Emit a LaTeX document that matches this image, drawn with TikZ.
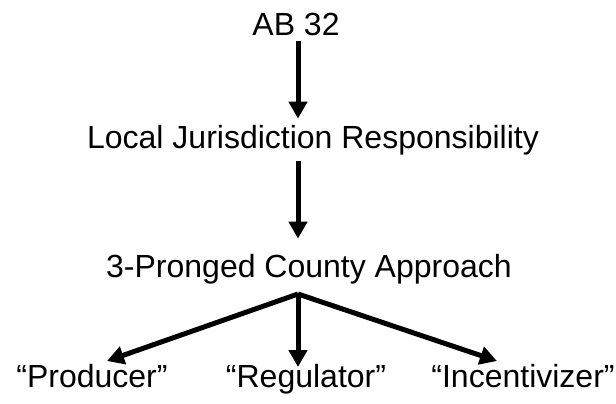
\documentclass[tikz,border=0pt]{standalone}
\usepackage{fontspec}
\setmainfont{Liberation Sans}
\usetikzlibrary{positioning,arrows.meta}

\begin{document}
\begin{tikzpicture}
    [x=1pt,y=-1pt,every node/.style={inner sep=0pt, anchor=base, font=\fontsize{32}{38}\selectfont},
     flow/.style={line width=5pt, -{Triangle[width=18pt,length=17pt]}}]
  \useasboundingbox (0,0) rectangle (616,404);

  \node (ab) at (296,36) {AB 32};
  \node (local) at (313,148) {Local Jurisdiction Responsibility};
  \node (approach) at (309,277) {3-Pronged County Approach};

  \node (producer) at (92,387) {“Producer”};
  \node (regulator) at (306,387) {“Regulator”};
  \node (incentivizer) at (523,387) {“Incentivizer”};

  \coordinate (hub) at (298,294);
  \coordinate (tprod) at (107,361);
  \coordinate (treg) at (298,367);
  \coordinate (tinc) at (497,361);

  \draw[flow, shorten <=4pt, shorten >=6pt] (ab.south -| hub) -- (local.north -| hub);
  \draw[flow, shorten <=6pt, shorten >=15pt] (local.south -| hub) -- (approach.north -| hub);

  \foreach \to in {tprod, treg, tinc}
    \draw[flow] (hub) -- (\to);
\end{tikzpicture}
\end{document}
